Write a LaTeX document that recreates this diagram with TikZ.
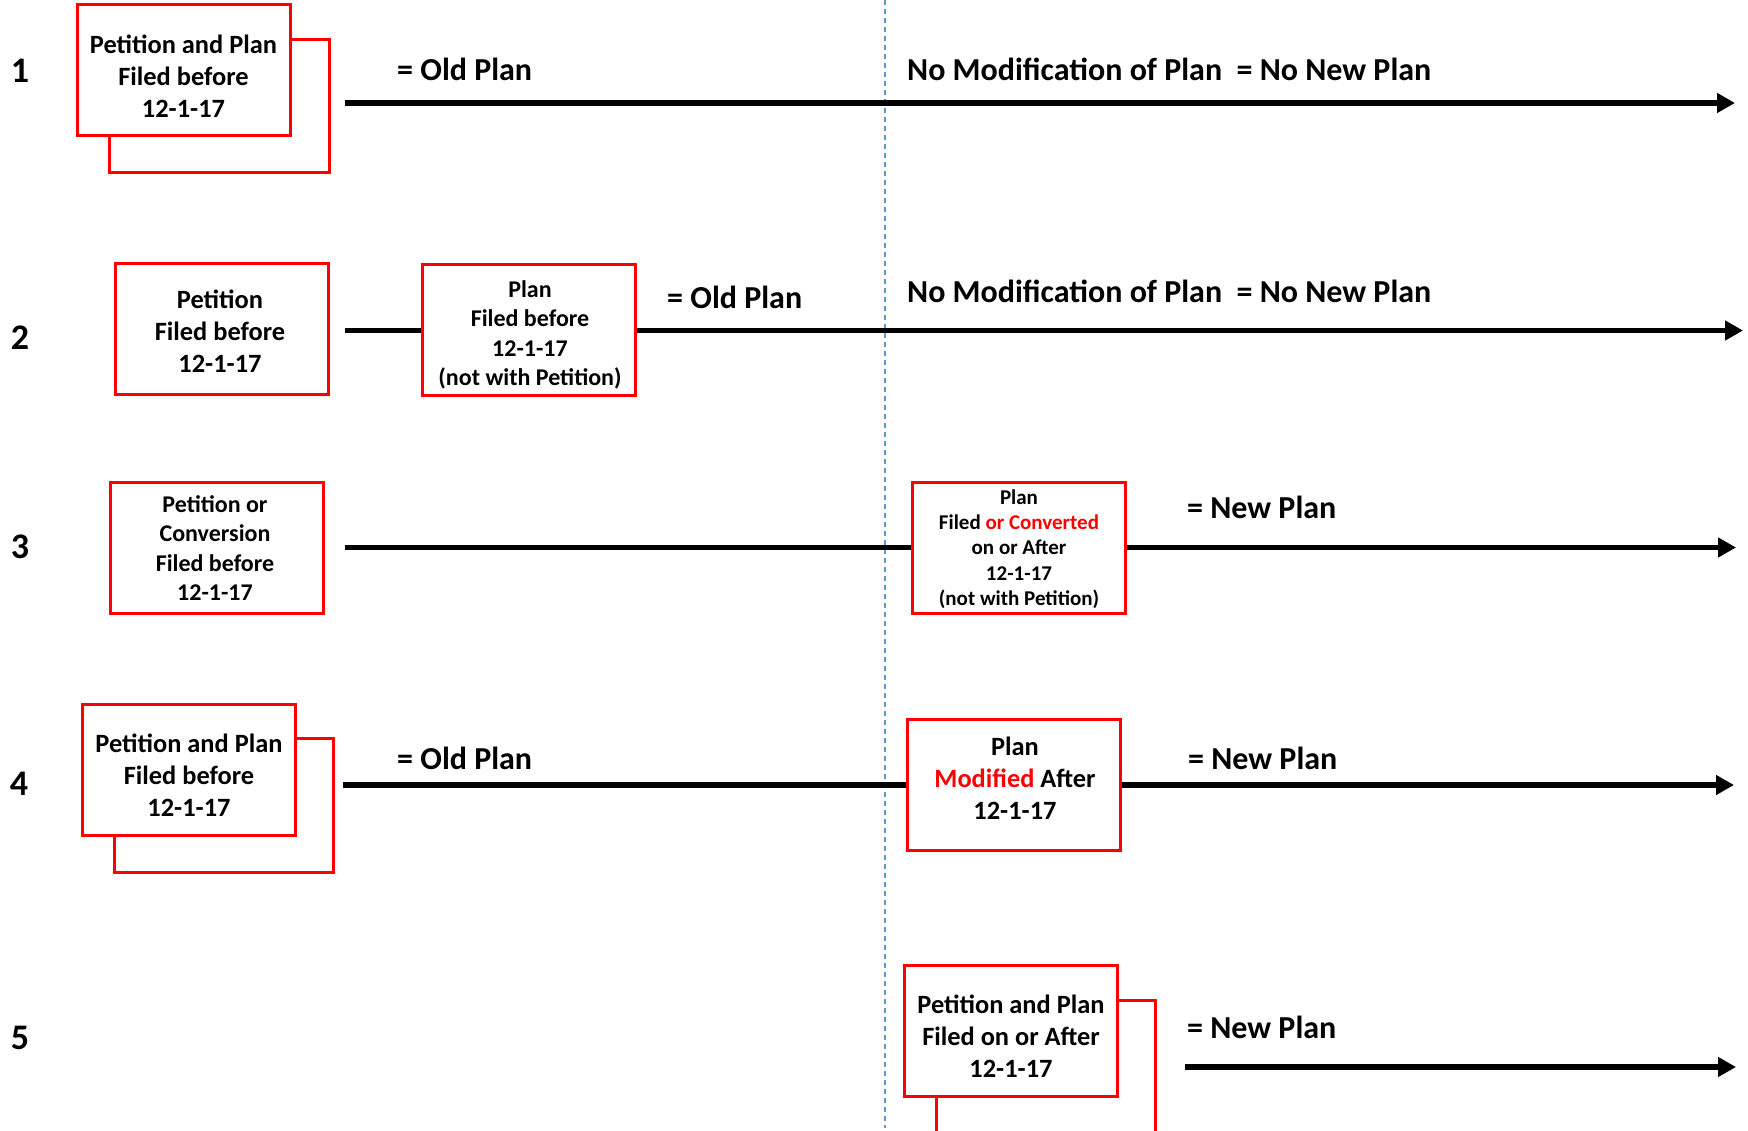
\documentclass[tikz,border=0pt]{standalone}
\usepackage{fontspec}
\setmainfont{Carlito}
\usetikzlibrary{arrows.meta}
\definecolor{boxred}{RGB}{255,0,0}
\definecolor{guideblue}{RGB}{91,155,213}
\tikzset{
  redbox/.style={draw=boxred, line width=3pt, fill=white, inner sep=0pt, rectangle,
                 minimum width=213pt, minimum height=131pt},
  backbox/.style={draw=boxred, line width=3pt},
  bigtxt/.style={font=\bfseries\fontsize{26.4}{32}\selectfont, align=center, inner sep=0pt},
  midtxt/.style={font=\bfseries\fontsize{24}{29.5}\selectfont, align=center, inner sep=0pt},
  smalltxt/.style={font=\bfseries\fontsize{21}{25.3}\selectfont, align=center, inner sep=0pt},
  eqlabel/.style={font=\bfseries\fontsize{32}{38}\selectfont, anchor=west, inner sep=0pt},
  rownum/.style={font=\bfseries\fontsize{36}{40}\selectfont, inner sep=0pt},
  timeline/.style={line width=5.5pt},
  arrowline/.style={line width=5.5pt, -{Triangle[length=18pt,width=19pt]}},
  guideline/.style={draw=guideblue, line width=1.2pt, dash pattern=on 5pt off 4pt},
}
\begin{document}
\begin{tikzpicture}[x=1pt, y=-1pt]
\useasboundingbox (0,0) rectangle (1748,1131);
\clip (0,0) rectangle (1748,1131);
\fill[white] (0,0) rectangle (1748,1131);

% guide line
\coordinate (gtop) at (885,0);
\coordinate (gbot) at (885,1128);
\draw[guideline] (gtop) -- (gbot);

% row numbers
\node[rownum] (n1) at (20,71) {1};
\node[rownum] (n2) at (20,338) {2};
\node[rownum] (n3) at (20,547) {3};
\node[rownum] (n4) at (19,784) {4};
\node[rownum] (n5) at (20,1038) {5};

% ---------- row 1
\coordinate (s1) at (345,103);
\coordinate (e1) at (1735,103);
\draw[arrowline] (s1) -- (e1);
\draw[backbox] (109,40) rectangle (329,173);
\node[redbox] (b1) at (183.5,70.5) {};
\node[bigtxt] (t1) at (183.5,76.5) {Petition and Plan\\Filed before\\12-1-17};
\node[eqlabel] (l1) at (397,69) {= Old Plan};
\node[eqlabel] (m1) at (907,69) {No Modification of Plan\ \ = No New Plan};

% ---------- row 2
\coordinate (s2) at (345,330.5);
\coordinate (e2) at (1743,330.5);
\node[redbox] (b2a) at (222,329.5) {};
\node[bigtxt] (t2a) at (220,331) {Petition\\Filed before\\12-1-17};
\node[redbox] (b2b) at (528.5,330.5) {};
\node[midtxt] (t2b) at (530,335) {Plan\\Filed before\\12-1-17\\(not with Petition)};
\draw[timeline] (s2) -- (b2b.west);
\draw[arrowline] (b2b.east) -- (e2);
\node[eqlabel] (l2) at (667,297) {= Old Plan};
\node[eqlabel] (m2) at (907,291) {No Modification of Plan\ \ = No New Plan};

% ---------- row 3
\coordinate (s3) at (345,547.5);
\coordinate (e3) at (1736,547.5);
\node[redbox] (b3a) at (216.5,547.5) {};
\node[midtxt] (t3a) at (215,548) {Petition or\\Conversion\\Filed before\\12-1-17};
\node[redbox] (b3b) at (1018.5,547.5) {};
\node[smalltxt] (t3b) at (1019,549) {Plan\\Filed \textcolor{boxred}{or Converted}\\on or After\\12-1-17\\(not with Petition)};
\draw[timeline] (s3) -- (b3b.west);
\draw[arrowline] (b3b.east) -- (e3);
\node[eqlabel] (l3) at (1187,507) {= New Plan};

% ---------- row 4
\coordinate (s4) at (343,785);
\coordinate (e4) at (1734,785);
\draw[backbox] (114,738) rectangle (333,872);
\node[redbox] (b4a) at (188.5,769.5) {};
\node[bigtxt] (t4a) at (189,775) {Petition and Plan\\Filed before\\12-1-17};
\node[redbox] (b4b) at (1013.5,785) {};
\node[bigtxt] (t4b) at (1015,778.5) {Plan\\\textcolor{boxred}{Modified} After\\12-1-17};
\draw[timeline] (s4) -- (b4b.west);
\draw[arrowline] (b4b.east) -- (e4);
\node[eqlabel] (l4a) at (397,758) {= Old Plan};
\node[eqlabel] (l4b) at (1188,758) {= New Plan};

% ---------- row 5
\coordinate (s5) at (1185,1067);
\coordinate (e5) at (1736,1067);
\draw[arrowline] (s5) -- (e5);
\draw[backbox] (936,1000) rectangle (1155,1170);
\node[redbox] (b5) at (1010.5,1030.5) {};
\node[bigtxt] (t5) at (1011,1036.5) {Petition and Plan\\Filed on or After\\12-1-17};
\node[eqlabel] (l5) at (1187,1027) {= New Plan};
\end{tikzpicture}
\end{document}
